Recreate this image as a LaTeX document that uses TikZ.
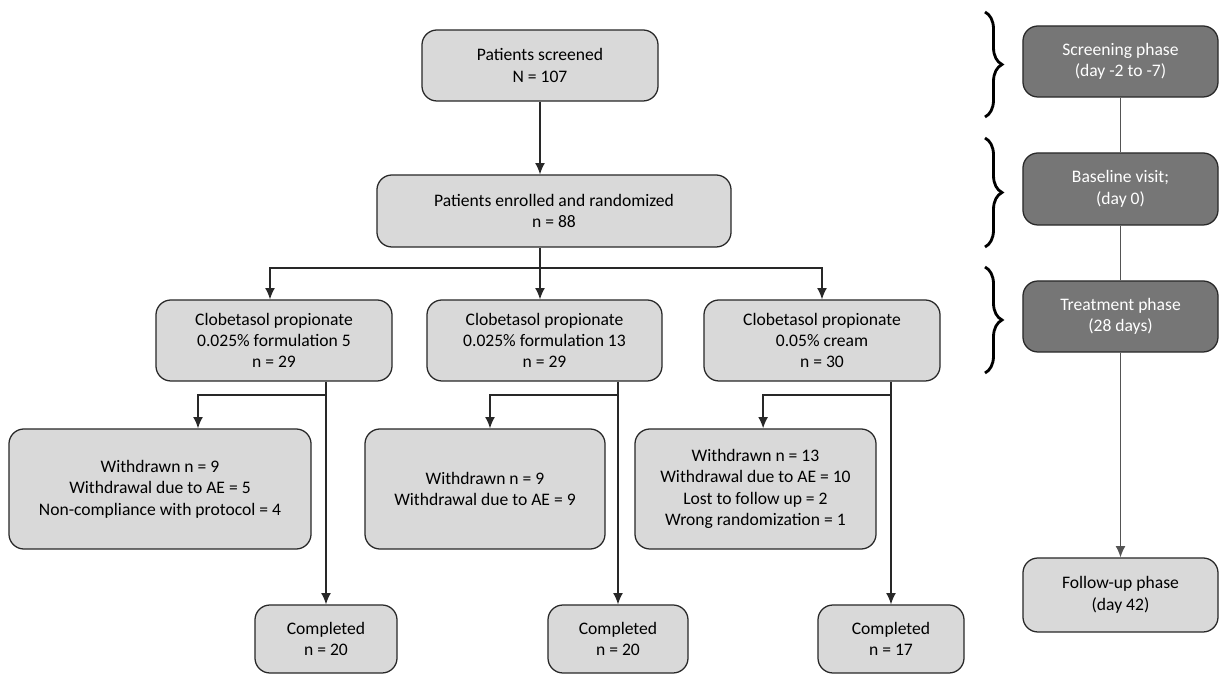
\documentclass[tikz,border=0pt]{standalone}
\usepackage{fontspec}
\setmainfont{Carlito}
\usetikzlibrary{arrows.meta}
\usetikzlibrary{decorations.pathreplacing}
\pgfdeclarelayer{edgelayer}
\pgfdeclarelayer{nodelayer}
\pgfsetlayers{edgelayer,nodelayer,main}
\definecolor{boxgrey}{RGB}{217,217,217}
\definecolor{phasegrey}{RGB}{118,118,118}
\definecolor{edgegrey}{RGB}{40,40,40}
\tikzstyle{box}=[rectangle,rounded corners=0.375cm,fill=boxgrey,draw=edgegrey,line width=0.9pt,align=center,inner sep=0pt]
\tikzstyle{phase}=[box,fill=phasegrey,text=white]
\tikzstyle{transition}=[-{Latex[length=8pt,width=7pt]},draw=edgegrey,line width=1pt]
\tikzstyle{link}=[draw=edgegrey!80,line width=0.9pt]
\tikzstyle{phasebrace}=[decorate,decoration={brace,amplitude=0.425cm},draw=black,line width=2pt]

\begin{document}
\begin{tikzpicture}[x=0.025cm,y=-0.025cm,font=\fontsize{12.5}{15.2}\selectfont]
	\useasboundingbox (0,0) rectangle (1219,674);
	\begin{pgfonlayer}{nodelayer}
		\node [style=box, minimum width=5.9cm, minimum height=1.775cm] (0) at (540, 65.5) {Patients screened\\N = 107};
		\node [style=box, minimum width=8.85cm, minimum height=1.8cm] (1) at (554, 211) {Patients enrolled and randomized\\n = 88};
		\node [style=box, minimum width=5.9cm, minimum height=2.025cm] (2) at (274, 340.5) {Clobetasol propionate\\0.025\% formulation 5\\n = 29};
		\node [style=box, minimum width=5.875cm, minimum height=2.025cm] (3) at (544.5, 340.5) {Clobetasol propionate\\0.025\% formulation 13\\n = 29};
		\node [style=box, minimum width=5.9cm, minimum height=2.025cm] (4) at (822, 340.5) {Clobetasol propionate\\0.05\% cream\\n = 30};
		\node [style=box, minimum width=7.55cm, minimum height=3cm] (5) at (160, 489) {Withdrawn n = 9\\Withdrawal due to AE = 5\\Non-compliance with protocol = 4};
		\node [style=box, minimum width=6cm, minimum height=3cm] (6) at (485, 489) {Withdrawn n = 9\\Withdrawal due to AE = 9};
		\node [style=box, minimum width=6.025cm, minimum height=3cm] (7) at (755.5, 489) {Withdrawn n = 13\\Withdrawal due to AE = 10\\Lost to follow up = 2\\Wrong randomization = 1};
		\node [style=box, minimum width=3.55cm, minimum height=1.7cm] (8) at (326, 639) {Completed\\n = 20};
		\node [style=box, minimum width=3.5cm, minimum height=1.7cm] (9) at (618, 639) {Completed\\n = 20};
		\node [style=box, minimum width=3.65cm, minimum height=1.7cm] (10) at (891, 639) {Completed\\n = 17};
		\node [style=phase, minimum width=4.875cm, minimum height=1.775cm] (11) at (1120.5, 61.5) {Screening phase\\(day -2 to -7)};
		\node [style=phase, minimum width=4.875cm, minimum height=1.8cm] (12) at (1120.5, 189) {Baseline visit;\\(day 0)};
		\node [style=phase, minimum width=4.875cm, minimum height=1.775cm] (13) at (1120.5, 316.5) {Treatment phase\\(28 days)};
		\node [style=box, minimum width=4.875cm, minimum height=1.85cm] (14) at (1120.5, 595) {Follow-up phase\\(day 42)};
		\coordinate (15) at (540, 268);
		\coordinate (16) at (326, 395);
		\coordinate (17) at (618, 395);
		\coordinate (18) at (891, 395);
	\end{pgfonlayer}
	\begin{pgfonlayer}{edgelayer}
		\draw [style=transition] (0.south) -- (0 |- 1.north);
		\draw [style=link, draw=edgegrey, line width=1pt] (0 |- 1.south) -- (15);
		\draw [style=transition] (15) -- (15 |- 3.north);
		\draw [style=transition] (15) -| ([xshift=-0.1cm]2.north);
		\draw [style=transition] (15) -| (4.north);
		\draw [style=transition] (16 |- 2.south) -- (8.north);
		\draw [style=transition] (17 |- 3.south) -- (9.north);
		\draw [style=transition] (18 |- 4.south) -- (10.north);
		\draw [style=transition] (16) -| ([xshift=0.95cm]5.north);
		\draw [style=transition] (17) -| ([xshift=0.125cm]6.north);
		\draw [style=transition] (18) -| ([xshift=0.19cm]7.north);
		\draw [style=link] (11) -- (12);
		\draw [style=link] (12) -- (13);
		\draw [style=transition, draw=edgegrey!80, line width=0.9pt] (13) -- (14);
	\end{pgfonlayer}
	\draw [style=phasebrace] (985, 12) -- (985, 117);
	\draw [style=phasebrace] (985, 138) -- (985, 247);
	\draw [style=phasebrace] (985, 267) -- (985, 373);
\end{tikzpicture}
\end{document}
